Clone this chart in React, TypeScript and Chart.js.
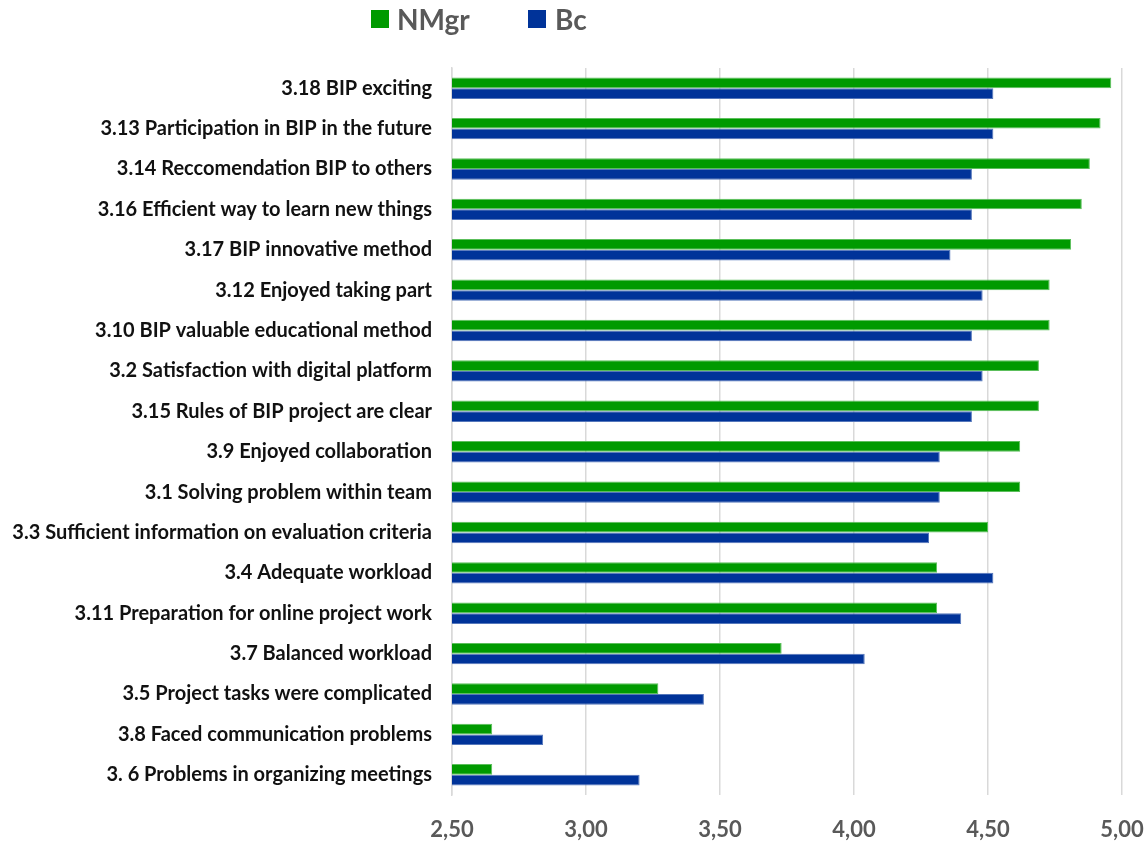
import React, { useEffect, useRef } from "react";
import { Chart, registerables } from "chart.js";

Chart.register(...registerables);

const categories = [
  "3.18 BIP exciting",
  "3.13 Participation in BIP in the future",
  "3.14 Reccomendation BIP to others",
  "3.16 Efficient way to learn new things",
  "3.17 BIP innovative method",
  "3.12 Enjoyed taking part",
  "3.10 BIP valuable educational method",
  "3.2 Satisfaction with digital platform",
  "3.15 Rules of BIP project are clear",
  "3.9 Enjoyed collaboration",
  "3.1 Solving problem within team",
  "3.3 Sufficient information on evaluation criteria",
  "3.4 Adequate workload",
  "3.11 Preparation for online project work",
  "3.7 Balanced workload",
  "3.5 Project tasks were complicated",
  "3.8 Faced communication problems",
  "3. 6 Problems in organizing meetings",
];

const nmgrValues = [
  4.96, 4.92, 4.88, 4.85, 4.81, 4.73, 4.73, 4.69, 4.69, 4.62, 4.62, 4.5, 4.31,
  4.31, 3.73, 3.27, 2.65, 2.65,
];

const bcValues = [
  4.52, 4.52, 4.44, 4.44, 4.36, 4.48, 4.44, 4.48, 4.44, 4.32, 4.32, 4.28, 4.52,
  4.4, 4.04, 3.44, 2.84, 3.2,
];

const seriesNames = ["NMgr", "Bc"];
const seriesColors = ["#009a00", "#003399"];
const seriesBorders = ["#5cbf5c", "#5577bb"];

const FONT = "Lato, 'Open Sans', sans-serif";

export default function App() {
  const canvasRef = useRef<HTMLCanvasElement | null>(null);

  useEffect(() => {
    document.body.style.margin = "0";
    const canvas = canvasRef.current;
    if (!canvas) return;
    const chart = new Chart(canvas, {
      type: "bar",
      data: {
        labels: categories,
        datasets: [
          {
            label: seriesNames[0],
            data: nmgrValues,
            backgroundColor: seriesColors[0],
            borderColor: seriesBorders[0],
            borderWidth: 1,
            barPercentage: 1,
            categoryPercentage: 0.53,
          },
          {
            label: seriesNames[1],
            data: bcValues,
            backgroundColor: seriesColors[1],
            borderColor: seriesBorders[1],
            borderWidth: 1,
            barPercentage: 1,
            categoryPercentage: 0.53,
          },
        ],
      },
      options: {
        indexAxis: "y",
        animation: false,
        responsive: false,
        maintainAspectRatio: false,
        layout: { padding: { top: 68, right: 2, bottom: 3, left: 2 } },
        plugins: {
          legend: { display: false },
          tooltip: { enabled: false },
        },
        scales: {
          x: {
            min: 2.5,
            max: 5,
            ticks: {
              stepSize: 0.5,
              color: "#595959",
              padding: 22,
              font: { family: FONT, size: 22, weight: "bold" },
              callback: (v: any) => Number(v).toFixed(2).replace(".", ","),
            },
            grid: { color: "#d9d9d9", lineWidth: 1.5, drawTicks: false },
            border: { display: false },
            afterFit: (scale: any) => {
              scale.height = 47;
              scale.paddingLeft = 0;
              scale.paddingRight = 26;
            },
          },
          y: {
            ticks: {
              color: "#111111",
              padding: 20,
              autoSkip: false,
              font: { family: FONT, size: 20, weight: "bold" },
            },
            grid: { display: false, drawTicks: false },
            border: { display: true, color: "#d9d9d9", width: 1.5 },
            afterFit: (scale: any) => {
              scale.width = 450;
            },
          },
        },
      },
    });
    return () => chart.destroy();
  }, []);

  const legendText: React.CSSProperties = {
    position: "absolute",
    top: 1,
    fontFamily: FONT,
    fontWeight: "bold",
    fontSize: 28,
    color: "#595959",
    lineHeight: "36px",
  };
  const box = (left: number, color: string): React.CSSProperties => ({
    position: "absolute",
    left,
    top: 10,
    width: 18,
    height: 18,
    background: color,
  });

  return (
    <div style={{ position: "relative", width: 1148, height: 845, background: "#fff" }}>
      <canvas ref={canvasRef} width={1148} height={845} />
      <div style={box(371, seriesColors[0])} />
      <div style={{ ...legendText, left: 397 }}>{seriesNames[0]}</div>
      <div style={box(528, seriesColors[1])} />
      <div style={{ ...legendText, left: 555 }}>{seriesNames[1]}</div>
    </div>
  );
}
